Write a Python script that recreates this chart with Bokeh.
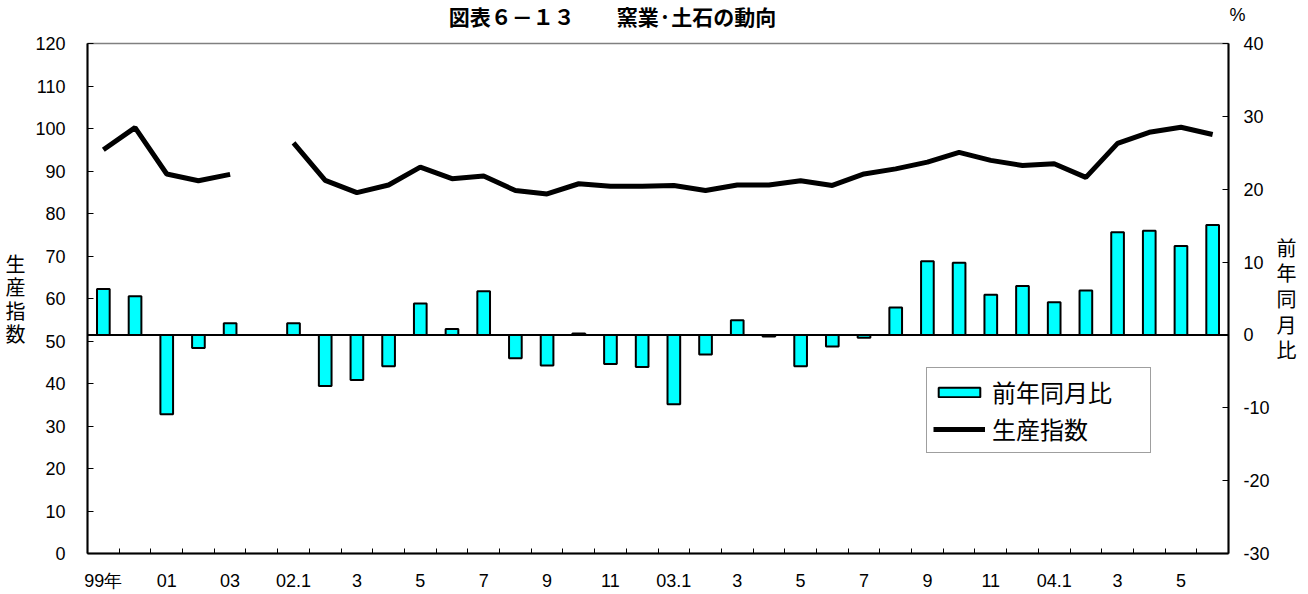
from bokeh.plotting import figure
from bokeh.layouts import column
from bokeh.models import (Range1d, LinearAxis, FixedTicker, Span, Label, Legend,
                          LegendItem, ColumnDataSource)
from bokeh.embed import file_html
from bokeh.resources import INLINE

NaN = float("nan")

# categories (annual 99-03, a blank slot, then monthly 2002.1 - 2004.6)
categories = ["99年", "00", "01", "02", "03", "",
              "02.1", "2", "3", "4", "5", "6", "7", "8", "9", "10", "11", "12",
              "03.1", "2", "3", "4", "5", "6", "7", "8", "9", "10", "11", "12",
              "04.1", "2", "3", "4", "5", "6"]
tick_labels = ["99年", "01", "03", "02.1", "3", "5", "7", "9", "11",
               "03.1", "3", "5", "7", "9", "11", "04.1", "3", "5"]

# 前年同月比 (%, right axis)
yoy = [6.3, 5.3, -10.9, -1.8, 1.6, NaN,
       1.6, -7.0, -6.2, -4.3, 4.3, 0.8, 6.0, -3.2, -4.2, 0.2, -4.0, -4.4,
       -9.5, -2.7, 2.0, -0.2, -4.3, -1.6, -0.4, 3.75, 10.1, 9.9, 5.5, 6.7,
       4.5, 6.1, 14.1, 14.3, 12.2, 15.1]
# 生産指数 (left axis)
index_vals = [95.0, 100.2, 89.3, 87.7, 89.2, NaN,
              96.6, 87.8, 84.9, 86.7, 90.9, 88.2, 88.8, 85.4, 84.6, 87.0, 86.4, 86.4,
              86.6, 85.4, 86.7, 86.7, 87.7, 86.6, 89.3, 90.5, 92.1, 94.4, 92.5, 91.3,
              91.7, 88.5, 96.5, 99.1, 100.3, 98.6]

left_ticks = list(range(0, 121, 10))
right_ticks = list(range(-30, 41, 10))

title_text = "図表６－１３　　窯業·土石の動向"
left_caption = "生産指数"
right_caption = "前年同月比"

n = len(categories)
xs = list(range(n))
src = ColumnDataSource(dict(x=xs, yoy=yoy, idx=index_vals))

CJK = "Noto Sans CJK JP"
LAT = "Liberation Sans"
W = 1300

# ---- title strip ----
TH = 33
tfig = figure(width=W, height=TH, x_range=Range1d(0, W), y_range=Range1d(0, TH),
              output_backend="svg", toolbar_location=None,
              x_axis_type=None, y_axis_type=None, min_border=0,
              min_border_left=0, min_border_right=0, min_border_top=0, min_border_bottom=0)
tfig.frame_align = False
tfig.outline_line_color = None
tfig.background_fill_color = "white"
tfig.border_fill_color = "white"
tfig.add_layout(Label(x=612, y=TH - 15, text=title_text, text_align="center",
                      text_baseline="middle", text_font=CJK, text_font_size="21px",
                      text_font_style="bold", text_color="black"))
tfig.add_layout(Label(x=1237, y=TH - 14, text="%", text_align="center",
                      text_baseline="middle", text_font=LAT, text_font_size="18px",
                      text_color="black"))

# ---- main chart ----
p = figure(width=W, height=561, x_range=Range1d(-0.5, n - 0.5), y_range=Range1d(0, 120),
           output_backend="svg", toolbar_location=None,
           min_border_left=87, min_border_right=72, min_border_top=10, min_border_bottom=41,
           x_axis_type=None, y_axis_type=None)
p.frame_align = False
p.extra_y_ranges = {"pct": Range1d(-30, 40)}
p.outline_line_color = "#808080"
p.outline_line_width = 1.5
p.background_fill_color = "white"
p.border_fill_color = "white"

xaxis = LinearAxis(ticker=FixedTicker(ticks=xs[0::2], minor_ticks=[i + 0.5 for i in xs[:-1]]))
xaxis.major_label_overrides = {xs[0::2][i]: tick_labels[i] for i in range(len(tick_labels))}
xaxis.major_tick_line_color = None
xaxis.minor_tick_in = 5
xaxis.minor_tick_out = 0
xaxis.minor_tick_line_color = "black"
xaxis.minor_tick_line_width = 1
xaxis.axis_line_width = 2
xaxis.axis_line_color = "black"
xaxis.major_label_text_font = LAT
xaxis.major_label_text_font_size = "18px"
xaxis.major_label_text_color = "black"
xaxis.major_label_standoff = 11
p.add_layout(xaxis, "below")

laxis = LinearAxis(ticker=FixedTicker(ticks=left_ticks, minor_ticks=[]))
raxis = LinearAxis(ticker=FixedTicker(ticks=right_ticks, minor_ticks=[]), y_range_name="pct")
raxis.major_label_overrides = {t: ("-%d" % -t if t < 0 else str(t)) for t in right_ticks}
for ax in (laxis, raxis):
    ax.major_tick_in = 6
    ax.major_tick_out = 0
    ax.major_tick_line_width = 1
    ax.major_tick_line_color = "black"
    ax.axis_line_width = 2
    ax.axis_line_color = "black"
    ax.major_label_text_font = LAT
    ax.major_label_text_font_size = "18px"
    ax.major_label_text_color = "black"
    ax.axis_label_orientation = "horizontal"
    ax.axis_label_text_font = CJK
    ax.axis_label_text_font_size = "20px"
    ax.axis_label_text_font_style = "normal"
    ax.axis_label_text_color = "black"
laxis.axis_label = "\n".join(left_caption)
raxis.axis_label = "\n".join(right_caption)
laxis.axis_label_text_line_height = 0.816
raxis.axis_label_text_line_height = 0.885
laxis.major_label_standoff = 22
raxis.major_label_standoff = 15
laxis.axis_label_standoff = 7
raxis.axis_label_standoff = 4
p.add_layout(laxis, "left")
p.add_layout(raxis, "right")

bars = p.vbar(x="x", top="yoy", bottom=0, width=0.4, source=src, y_range_name="pct",
              fill_color="#00FFFF", line_color="black", line_width=2)
p.add_layout(Span(location=0, dimension="width", y_range_name="pct",
                  line_color="black", line_width=2))
line = p.line(x="x", y="idx", source=src, line_color="black", line_width=5)

legend = Legend(items=[LegendItem(label=right_caption, renderers=[bars]),
                       LegendItem(label=left_caption, renderers=[line])],
                location=(839, 100), orientation="vertical",
                label_text_font=CJK, label_text_font_size="24px", label_text_color="black",
                glyph_width=52, glyph_height=12, label_standoff=7,
                label_width=152, label_height=26, spacing=2, padding=6, margin=0,
                border_line_color="#404040", border_line_width=1,
                background_fill_color="white", background_fill_alpha=1)
p.add_layout(legend)

layout = column(tfig, p, spacing=0)
open("out.html", "w").write(file_html(layout, INLINE))
